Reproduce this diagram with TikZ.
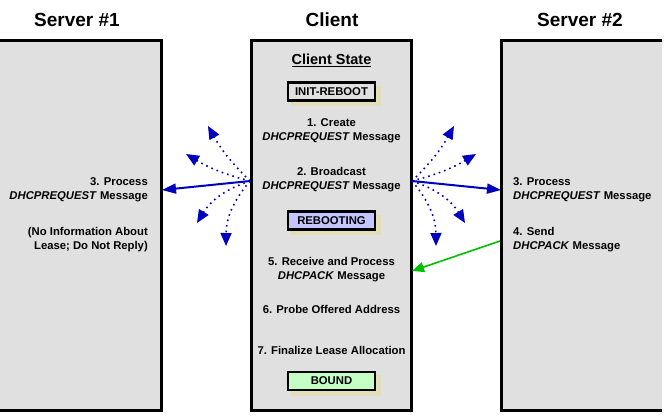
\documentclass[tikz,border=0pt]{standalone}
\usepackage{fontspec}
\setmainfont{Liberation Sans}
\usepackage{xcolor}
\usetikzlibrary{arrows.meta}

\definecolor{panelgrey}{HTML}{E0E0E0}
\definecolor{msgblue}{HTML}{0000C0}
\definecolor{ackgreen}{HTML}{00C000}
\definecolor{shadowtan}{HTML}{E2DEB8}
\definecolor{rebootblue}{HTML}{C4C4FF}
\definecolor{boundgreen}{HTML}{C4FFC4}

\begin{document}
\begin{tikzpicture}[x=1pt, y=-1pt, font=\fontsize{11.3}{14}\selectfont\bfseries]

	\tikzstyle{panel} = [fill=panelgrey, inner sep=0pt, minimum height=370pt]
	
	\tikzstyle{border} = [draw, line width=3pt]
	
	\tikzstyle{heading} = [font=\fontsize{19}{22}\selectfont\bfseries]
	
	\tikzstyle{state} = [draw, line width=2.5pt, inner sep=0pt, minimum width=87pt, minimum height=18pt, preaction={draw=shadowtan, fill=shadowtan, transform canvas={shift={(4.5pt,-4.5pt)}}}]
	
	\tikzstyle{stepnote} = [align=center, inner sep=0pt]
	
	\tikzstyle{request} = [draw=msgblue, line width=2pt, -{Triangle[length=14pt, width=10pt]}]
	
	\tikzstyle{broadcast} = [draw=msgblue, line width=1.6pt, dash pattern=on 1.6pt off 4pt, -{Triangle[length=13pt, width=11pt]}]
	
	\tikzstyle{reply} = [draw=ackgreen, line width=1.6pt, -{Triangle[length=12pt, width=10pt]}]
	
	\useasboundingbox (0,0) rectangle (666,416);
	
	% panels
	\node[panel, minimum width=161.5pt] (server one) at (80.75,225.5) {};
	\node[panel, minimum width=160.5pt] (server two) at (581.75,225.5) {};
	\node[panel, border, minimum width=160pt] (client) at (331.5,225.5) {};
	\draw[border] (server one.north west) -- (server one.north east) -- (server one.south east) -- (server one.south west);
	\draw[border] (server two.north east) -- (server two.north west) -- (server two.south west) -- (server two.south east);
	
	\node[heading] (server one title) at (77,20) {Server \#1};
	\node[heading] (client title) at (332,20) {Client};
	\node[heading] (server two title) at (580,20) {Server \#2};
	
	% client column
	\node[font=\fontsize{14.5}{17}\selectfont\bfseries] (client state) at (331.5,60) {\underline{Client State}};
	\node[state, fill=panelgrey] (init reboot) at (331.5,91.5) {INIT-REBOOT};
	\node[stepnote] (create request) at (331.5,130.5) {1. Create\\\textit{DHCPREQUEST} Message};
	\node[stepnote] (broadcast request) at (331.5,180) {2. Broadcast\\\textit{DHCPREQUEST} Message};
	\node[state, fill=rebootblue] (rebooting) at (331.5,220.5) {REBOOTING};
	\node[stepnote] (receive ack) at (331.5,270) {5. Receive and Process\\\textit{DHCPACK} Message};
	\node[stepnote] (probe address) at (331.5,309) {6. Probe Offered Address};
	\node[stepnote] (finalize lease) at (331.5,350) {7. Finalize Lease Allocation};
	\node[state, fill=boundgreen] (bound) at (331.5,381) {BOUND};
	
	% server texts
	\node[stepnote, align=right, anchor=east] (server one process) at (148,190) {3. Process\\\textit{DHCPREQUEST} Message};
	\node[stepnote, align=right, anchor=east] (no lease info) at (148,240) {(No Information About\\Lease; Do Not Reply)};
	\node[stepnote, align=left, anchor=west] (server two process) at (513,190) {3. Process\\\textit{DHCPREQUEST} Message};
	\node[stepnote, align=left, anchor=west] (send ack) at (513,240) {4. Send\\\textit{DHCPACK} Message};
	
	% message end points
	\coordinate (left out) at (250,181);
	\coordinate (right out) at (412,181);
	\coordinate (server one in) at (162,190);
	\coordinate (server two in) at (501,190);
	\coordinate (left a) at (208,126);
	\coordinate (left b) at (186,154);
	\coordinate (left c) at (197,223);
	\coordinate (left d) at (226,246);
	\coordinate (right a) at (454,126);
	\coordinate (right b) at (476,154);
	\coordinate (right c) at (465,223);
	\coordinate (right d) at (436,246);
	\coordinate (ack out) at (500,241);
	\coordinate (ack in) at (412,271);
	
	\path[broadcast] (left out) to[bend left=8] (left a);
	\path[broadcast] (left out) to[bend left=8] (left b);
	\path[broadcast] (left out) to[bend right=20] (left c);
	\path[broadcast] (left out) to[bend right=20] (left d);
	\path[broadcast] (right out) to[bend right=8] (right a);
	\path[broadcast] (right out) to[bend right=8] (right b);
	\path[broadcast] (right out) to[bend left=20] (right c);
	\path[broadcast] (right out) to[bend left=20] (right d);
	
	\path[request] (left out) -- (server one in);
	\path[request] (right out) -- (server two in);
	\path[reply] (ack out) -- (ack in);

\end{tikzpicture}
\end{document}
